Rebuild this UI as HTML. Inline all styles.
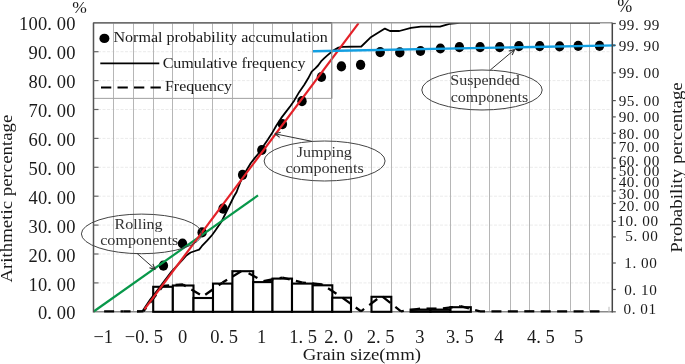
<!DOCTYPE html>
<html><head><meta charset="utf-8"><title>Grain size chart</title><style>html,body{margin:0;padding:0;background:#fff;width:685px;height:364px;overflow:hidden;font-family:"Liberation Serif",serif}</style></head><body>
<svg width="685" height="364" viewBox="0 0 685 364" style="position:absolute;left:0;top:0;font-family:'Liberation Serif',serif;will-change:transform">
<rect width="685" height="364" fill="#fff"/>
<line x1="93.5" y1="282.90" x2="612.3" y2="282.90" stroke="#ebebeb" stroke-width="1" stroke-dasharray="3 1.5"/>
<line x1="93.5" y1="254.00" x2="612.3" y2="254.00" stroke="#ebebeb" stroke-width="1" stroke-dasharray="3 1.5"/>
<line x1="93.5" y1="225.10" x2="612.3" y2="225.10" stroke="#ebebeb" stroke-width="1" stroke-dasharray="3 1.5"/>
<line x1="93.5" y1="196.20" x2="612.3" y2="196.20" stroke="#ebebeb" stroke-width="1" stroke-dasharray="3 1.5"/>
<line x1="93.5" y1="167.30" x2="612.3" y2="167.30" stroke="#ebebeb" stroke-width="1" stroke-dasharray="3 1.5"/>
<line x1="93.5" y1="138.40" x2="612.3" y2="138.40" stroke="#ebebeb" stroke-width="1" stroke-dasharray="3 1.5"/>
<line x1="93.5" y1="109.50" x2="612.3" y2="109.50" stroke="#ebebeb" stroke-width="1" stroke-dasharray="3 1.5"/>
<line x1="93.5" y1="80.60" x2="612.3" y2="80.60" stroke="#ebebeb" stroke-width="1" stroke-dasharray="3 1.5"/>
<line x1="93.5" y1="51.70" x2="612.3" y2="51.70" stroke="#ebebeb" stroke-width="1" stroke-dasharray="3 1.5"/>
<line x1="113.50" y1="22.8" x2="113.50" y2="311.8" stroke="#b6b6b6" stroke-width="1"/>
<line x1="133.50" y1="22.8" x2="133.50" y2="311.8" stroke="#b6b6b6" stroke-width="1"/>
<line x1="153.50" y1="22.8" x2="153.50" y2="311.8" stroke="#b6b6b6" stroke-width="1"/>
<line x1="172.50" y1="22.8" x2="172.50" y2="311.8" stroke="#b6b6b6" stroke-width="1"/>
<line x1="193.50" y1="22.8" x2="193.50" y2="311.8" stroke="#b6b6b6" stroke-width="1"/>
<line x1="212.50" y1="22.8" x2="212.50" y2="311.8" stroke="#b6b6b6" stroke-width="1"/>
<line x1="232.50" y1="22.8" x2="232.50" y2="311.8" stroke="#b6b6b6" stroke-width="1"/>
<line x1="253.50" y1="22.8" x2="253.50" y2="311.8" stroke="#b6b6b6" stroke-width="1"/>
<line x1="272.50" y1="22.8" x2="272.50" y2="311.8" stroke="#b6b6b6" stroke-width="1"/>
<line x1="292.50" y1="22.8" x2="292.50" y2="311.8" stroke="#b6b6b6" stroke-width="1"/>
<line x1="312.50" y1="22.8" x2="312.50" y2="311.8" stroke="#b6b6b6" stroke-width="1"/>
<line x1="331.50" y1="22.8" x2="331.50" y2="311.8" stroke="#b6b6b6" stroke-width="1"/>
<line x1="350.50" y1="22.8" x2="350.50" y2="311.8" stroke="#b6b6b6" stroke-width="1"/>
<line x1="371.50" y1="22.8" x2="371.50" y2="311.8" stroke="#b6b6b6" stroke-width="1"/>
<line x1="391.50" y1="22.8" x2="391.50" y2="311.8" stroke="#b6b6b6" stroke-width="1"/>
<line x1="410.50" y1="22.8" x2="410.50" y2="311.8" stroke="#b6b6b6" stroke-width="1"/>
<line x1="430.50" y1="22.8" x2="430.50" y2="311.8" stroke="#b6b6b6" stroke-width="1"/>
<line x1="450.50" y1="22.8" x2="450.50" y2="311.8" stroke="#b6b6b6" stroke-width="1"/>
<line x1="470.50" y1="22.8" x2="470.50" y2="311.8" stroke="#b6b6b6" stroke-width="1"/>
<line x1="489.50" y1="22.8" x2="489.50" y2="311.8" stroke="#b6b6b6" stroke-width="1"/>
<line x1="510.50" y1="22.8" x2="510.50" y2="311.8" stroke="#b6b6b6" stroke-width="1"/>
<line x1="529.50" y1="22.8" x2="529.50" y2="311.8" stroke="#b6b6b6" stroke-width="1"/>
<line x1="549.50" y1="22.8" x2="549.50" y2="311.8" stroke="#b6b6b6" stroke-width="1"/>
<line x1="570.50" y1="22.8" x2="570.50" y2="311.8" stroke="#b6b6b6" stroke-width="1"/>
<line x1="589.50" y1="22.8" x2="589.50" y2="311.8" stroke="#b6b6b6" stroke-width="1"/>
<rect x="93.5" y="22.8" width="238.20" height="75.60" fill="none" stroke="#a8a8a8" stroke-width="1.1"/>
<line x1="93.5" y1="311.8" x2="612.3" y2="311.8" stroke="#8a8a8a" stroke-width="1.6"/>
<rect x="153.20" y="286.80" width="19.65" height="25.00" fill="#fff" stroke="#000" stroke-width="2.1"/>
<rect x="172.85" y="285.50" width="20.65" height="26.30" fill="#fff" stroke="#000" stroke-width="2.1"/>
<rect x="193.50" y="298.00" width="19.50" height="13.80" fill="#fff" stroke="#000" stroke-width="2.1"/>
<rect x="213.00" y="283.60" width="19.40" height="28.20" fill="#fff" stroke="#000" stroke-width="2.1"/>
<rect x="232.40" y="271.20" width="20.80" height="40.60" fill="#fff" stroke="#000" stroke-width="2.1"/>
<rect x="253.20" y="282.10" width="19.30" height="29.70" fill="#fff" stroke="#000" stroke-width="2.1"/>
<rect x="272.50" y="278.60" width="19.50" height="33.20" fill="#fff" stroke="#000" stroke-width="2.1"/>
<rect x="292.00" y="283.60" width="20.70" height="28.20" fill="#fff" stroke="#000" stroke-width="2.1"/>
<rect x="312.70" y="285.30" width="19.60" height="26.50" fill="#fff" stroke="#000" stroke-width="2.1"/>
<rect x="332.30" y="297.70" width="18.70" height="14.10" fill="#fff" stroke="#000" stroke-width="2.1"/>
<rect x="371.50" y="296.80" width="19.80" height="15.00" fill="#fff" stroke="#000" stroke-width="2.1"/>
<rect x="410.60" y="309.60" width="19.90" height="2.20" fill="#fff" stroke="#000" stroke-width="2.1"/>
<rect x="430.50" y="309.60" width="20.00" height="2.20" fill="#fff" stroke="#000" stroke-width="2.1"/>
<rect x="450.50" y="307.20" width="20.30" height="4.60" fill="#fff" stroke="#000" stroke-width="2.1"/>
<line x1="103.50" y1="311.30" x2="123.50" y2="311.30" stroke="#000" stroke-width="2.3" stroke-dasharray="10 6.43" stroke-dashoffset="15.80"/>
<line x1="123.50" y1="311.30" x2="143.50" y2="311.30" stroke="#000" stroke-width="2.3" stroke-dasharray="10 6.43" stroke-dashoffset="2.94"/>
<line x1="143.50" y1="311.30" x2="163.00" y2="285.80" stroke="#000" stroke-width="2.3" stroke-dasharray="10 6.43" stroke-dashoffset="5.64"/>
<line x1="163.00" y1="285.80" x2="183.00" y2="284.50" stroke="#000" stroke-width="2.3" stroke-dasharray="10 6.43" stroke-dashoffset="3.86"/>
<line x1="183.00" y1="284.50" x2="203.00" y2="296.30" stroke="#000" stroke-width="2.3" stroke-dasharray="10 6.43" stroke-dashoffset="6.78"/>
<line x1="203.00" y1="296.30" x2="222.50" y2="282.60" stroke="#000" stroke-width="2.3" stroke-dasharray="10 6.43" stroke-dashoffset="13.66"/>
<line x1="222.50" y1="282.60" x2="243.00" y2="270.20" stroke="#000" stroke-width="2.3" stroke-dasharray="10 6.43" stroke-dashoffset="4.60"/>
<line x1="243.00" y1="270.20" x2="263.00" y2="281.10" stroke="#000" stroke-width="2.3" stroke-dasharray="10 6.43" stroke-dashoffset="10.04"/>
<line x1="263.00" y1="281.10" x2="282.50" y2="277.60" stroke="#000" stroke-width="2.3" stroke-dasharray="10 6.43" stroke-dashoffset="15.95"/>
<line x1="282.50" y1="277.60" x2="302.50" y2="282.60" stroke="#000" stroke-width="2.3" stroke-dasharray="10 6.43" stroke-dashoffset="2.60"/>
<line x1="302.50" y1="282.60" x2="322.00" y2="284.30" stroke="#000" stroke-width="2.3" stroke-dasharray="10 6.43" stroke-dashoffset="6.55"/>
<line x1="322.00" y1="284.30" x2="341.00" y2="296.70" stroke="#000" stroke-width="2.3" stroke-dasharray="10 6.43" stroke-dashoffset="9.19"/>
<line x1="341.00" y1="296.70" x2="361.00" y2="311.30" stroke="#000" stroke-width="2.3" stroke-dasharray="10 6.43" stroke-dashoffset="14.62"/>
<line x1="361.00" y1="311.30" x2="381.50" y2="295.80" stroke="#000" stroke-width="2.3" stroke-dasharray="10 6.43" stroke-dashoffset="6.09"/>
<line x1="381.50" y1="295.80" x2="401.00" y2="311.30" stroke="#000" stroke-width="2.3" stroke-dasharray="10 6.43" stroke-dashoffset="15.16"/>
<line x1="401.00" y1="311.30" x2="420.50" y2="308.60" stroke="#000" stroke-width="2.3" stroke-dasharray="10 6.43" stroke-dashoffset="7.16"/>
<line x1="420.50" y1="308.60" x2="440.50" y2="308.60" stroke="#000" stroke-width="2.3" stroke-dasharray="10 6.43" stroke-dashoffset="10.42"/>
<line x1="440.50" y1="308.60" x2="460.50" y2="306.20" stroke="#000" stroke-width="2.3" stroke-dasharray="10 6.43" stroke-dashoffset="13.99"/>
<line x1="460.50" y1="306.20" x2="480.00" y2="311.30" stroke="#000" stroke-width="2.3" stroke-dasharray="10 6.43" stroke-dashoffset="1.27"/>
<line x1="480.00" y1="311.30" x2="500.00" y2="311.30" stroke="#000" stroke-width="2.3" stroke-dasharray="10 6.43" stroke-dashoffset="5.00"/>
<line x1="500.00" y1="311.30" x2="520.00" y2="311.30" stroke="#000" stroke-width="2.3" stroke-dasharray="10 6.43" stroke-dashoffset="8.57"/>
<line x1="520.00" y1="311.30" x2="539.50" y2="311.30" stroke="#000" stroke-width="2.3" stroke-dasharray="10 6.43" stroke-dashoffset="12.14"/>
<line x1="539.50" y1="311.30" x2="560.00" y2="311.30" stroke="#000" stroke-width="2.3" stroke-dasharray="10 6.43" stroke-dashoffset="15.21"/>
<line x1="560.00" y1="311.30" x2="580.00" y2="311.30" stroke="#000" stroke-width="2.3" stroke-dasharray="10 6.43" stroke-dashoffset="2.85"/>
<line x1="580.00" y1="311.30" x2="599.50" y2="311.30" stroke="#000" stroke-width="2.3" stroke-dasharray="10 6.43" stroke-dashoffset="6.42"/>
<polyline points="137.00,311.50 142.40,311.20 150.20,299.60 160.20,286.60 171.30,271.80 178.50,264.20 182.20,260.20 186.40,255.40 190.60,252.50 195.00,251.00 199.10,249.60 201.80,246.20 207.10,240.70 212.10,235.00 215.70,230.00 218.60,225.70 221.60,221.50 227.50,209.50 233.90,196.50 236.60,192.00 238.70,186.30 240.60,181.50 243.50,175.50 246.80,169.80 250.70,163.20 254.30,158.60 257.90,154.20 262.90,146.70 267.90,139.60 272.10,133.10 276.10,126.00 281.30,117.90 286.30,111.40 290.60,105.70 294.30,100.40 299.30,91.90 304.30,84.70 308.20,78.30 311.70,71.60 315.30,68.40 318.10,65.50 321.00,61.40 324.60,57.90 327.40,55.40 330.30,52.90 333.20,50.60 338.40,47.60 342.50,46.80 361.30,46.50 370.40,37.60 384.90,28.60 390.00,31.00 399.40,31.00 411.00,27.80 420.80,26.70 440.00,26.70 449.40,23.80 459.90,22.90 600.00,22.90" fill="none" stroke="#000" stroke-width="1.8" stroke-linejoin="round"/>
<ellipse cx="163.4" cy="265.7" rx="4.7" ry="5.1" fill="#000"/>
<ellipse cx="182.5" cy="243.5" rx="4.7" ry="5.1" fill="#000"/>
<ellipse cx="202.1" cy="232.4" rx="4.7" ry="5.1" fill="#000"/>
<ellipse cx="223.0" cy="208.7" rx="4.7" ry="5.1" fill="#000"/>
<ellipse cx="242.6" cy="174.8" rx="4.7" ry="5.1" fill="#000"/>
<ellipse cx="261.8" cy="150.0" rx="4.7" ry="5.1" fill="#000"/>
<ellipse cx="282.4" cy="124.1" rx="4.7" ry="5.1" fill="#000"/>
<ellipse cx="302.0" cy="101.2" rx="4.7" ry="5.1" fill="#000"/>
<ellipse cx="321.4" cy="77.0" rx="4.7" ry="5.1" fill="#000"/>
<ellipse cx="341.4" cy="66.4" rx="4.7" ry="5.1" fill="#000"/>
<ellipse cx="360.6" cy="64.8" rx="4.7" ry="5.1" fill="#000"/>
<ellipse cx="380.2" cy="52.2" rx="4.7" ry="5.1" fill="#000"/>
<ellipse cx="399.8" cy="52.4" rx="4.7" ry="5.1" fill="#000"/>
<ellipse cx="420.5" cy="51.0" rx="4.7" ry="5.1" fill="#000"/>
<ellipse cx="440.4" cy="48.5" rx="4.7" ry="5.1" fill="#000"/>
<ellipse cx="459.4" cy="47.2" rx="4.7" ry="5.1" fill="#000"/>
<ellipse cx="480.1" cy="47.2" rx="4.7" ry="5.1" fill="#000"/>
<ellipse cx="499.7" cy="47.2" rx="4.7" ry="5.1" fill="#000"/>
<ellipse cx="518.9" cy="46.1" rx="4.7" ry="5.1" fill="#000"/>
<ellipse cx="539.7" cy="46.1" rx="4.7" ry="5.1" fill="#000"/>
<ellipse cx="559.6" cy="46.4" rx="4.7" ry="5.1" fill="#000"/>
<ellipse cx="578.2" cy="45.8" rx="4.7" ry="5.1" fill="#000"/>
<ellipse cx="599.5" cy="45.8" rx="4.7" ry="5.1" fill="#000"/>
<line x1="93.7" y1="311.5" x2="258" y2="195.4" stroke="#08984a" stroke-width="2.2"/>
<line x1="144.4" y1="309.3" x2="358.6" y2="23.2" stroke="#e42128" stroke-width="2.2"/>
<line x1="313" y1="51.2" x2="615.2" y2="45.4" stroke="#129fe2" stroke-width="2.4"/>
<rect x="608.2" y="306.8" width="1.6" height="4.6" fill="#d4d4d4"/>
<line x1="93.5" y1="22.8" x2="612.3" y2="22.8" stroke="#9a9a9a" stroke-width="1.4"/>
<line x1="93.5" y1="22.8" x2="331.7" y2="22.8" stroke="#6e6e6e" stroke-width="1.4"/>
<line x1="331.7" y1="22.8" x2="331.7" y2="98.4" stroke="#8a8a8a" stroke-width="1.1"/>
<line x1="93.5" y1="22.8" x2="93.5" y2="312.6" stroke="#555" stroke-width="1.5"/>
<line x1="612.3" y1="22.8" x2="612.3" y2="312.6" stroke="#444" stroke-width="1.5"/>
<line x1="93.5" y1="282.90" x2="98.5" y2="282.90" stroke="#666" stroke-width="1.2"/>
<line x1="93.5" y1="254.00" x2="98.5" y2="254.00" stroke="#666" stroke-width="1.2"/>
<line x1="93.5" y1="225.10" x2="98.5" y2="225.10" stroke="#666" stroke-width="1.2"/>
<line x1="93.5" y1="196.20" x2="98.5" y2="196.20" stroke="#666" stroke-width="1.2"/>
<line x1="93.5" y1="167.30" x2="98.5" y2="167.30" stroke="#666" stroke-width="1.2"/>
<line x1="93.5" y1="138.40" x2="98.5" y2="138.40" stroke="#666" stroke-width="1.2"/>
<line x1="93.5" y1="109.50" x2="98.5" y2="109.50" stroke="#666" stroke-width="1.2"/>
<line x1="93.5" y1="80.60" x2="98.5" y2="80.60" stroke="#666" stroke-width="1.2"/>
<line x1="93.5" y1="51.70" x2="98.5" y2="51.70" stroke="#666" stroke-width="1.2"/>
<line x1="612.3" y1="23.50" x2="615.8" y2="23.50" stroke="#555" stroke-width="1.2"/>
<line x1="612.3" y1="45.30" x2="615.8" y2="45.30" stroke="#555" stroke-width="1.2"/>
<line x1="612.3" y1="72.80" x2="615.8" y2="72.80" stroke="#555" stroke-width="1.2"/>
<line x1="612.3" y1="100.60" x2="615.8" y2="100.60" stroke="#555" stroke-width="1.2"/>
<line x1="612.3" y1="116.90" x2="615.8" y2="116.90" stroke="#555" stroke-width="1.2"/>
<line x1="612.3" y1="133.30" x2="615.8" y2="133.30" stroke="#555" stroke-width="1.2"/>
<line x1="612.3" y1="142.90" x2="615.8" y2="142.90" stroke="#555" stroke-width="1.2"/>
<line x1="612.3" y1="158.30" x2="615.8" y2="158.30" stroke="#555" stroke-width="1.2"/>
<line x1="612.3" y1="167.90" x2="615.8" y2="167.90" stroke="#555" stroke-width="1.2"/>
<line x1="612.3" y1="178.50" x2="615.8" y2="178.50" stroke="#555" stroke-width="1.2"/>
<line x1="612.3" y1="191.00" x2="615.8" y2="191.00" stroke="#555" stroke-width="1.2"/>
<line x1="612.3" y1="203.50" x2="615.8" y2="203.50" stroke="#555" stroke-width="1.2"/>
<line x1="612.3" y1="221.40" x2="615.8" y2="221.40" stroke="#555" stroke-width="1.2"/>
<line x1="612.3" y1="236.90" x2="615.8" y2="236.90" stroke="#555" stroke-width="1.2"/>
<line x1="612.3" y1="263.00" x2="615.8" y2="263.00" stroke="#555" stroke-width="1.2"/>
<line x1="612.3" y1="289.50" x2="615.8" y2="289.50" stroke="#555" stroke-width="1.2"/>
<line x1="612.3" y1="311.80" x2="615.8" y2="311.80" stroke="#555" stroke-width="1.2"/>
<ellipse cx="104.4" cy="38.4" rx="5" ry="4.7" fill="#000"/>
<line x1="100.3" y1="63.4" x2="159.3" y2="63.4" stroke="#000" stroke-width="1.8"/>
<line x1="101" y1="87.5" x2="161" y2="87.5" stroke="#000" stroke-width="2.1" stroke-dasharray="10.3 6.2"/>
<text transform="translate(113.44,42.00) scale(1.0723,1)" font-size="15" fill="#1a1a1a">Normal probability accumulation</text>
<text transform="translate(162.64,68.30) scale(1.0697,1)" font-size="15" fill="#1a1a1a">Cumulative frequency</text>
<text transform="translate(165.04,90.50) scale(1.0570,1)" font-size="15" fill="#1a1a1a">Frequency</text>
<ellipse cx="141.6" cy="233.9" rx="60.2" ry="19.8" fill="none" stroke="#444" stroke-width="1"/>
<ellipse cx="324.6" cy="161.0" rx="60.5" ry="20.0" fill="none" stroke="#444" stroke-width="1"/>
<ellipse cx="482.0" cy="90.0" rx="60.2" ry="20.0" fill="none" stroke="#444" stroke-width="1"/>
<line x1="137" y1="253.4" x2="155.2" y2="269.4" stroke="#333" stroke-width="1"/>
<line x1="155.2" y1="269.4" x2="152.87" y2="263.87" stroke="#333" stroke-width="1.1"/>
<line x1="155.2" y1="269.4" x2="149.42" y2="267.79" stroke="#333" stroke-width="1.1"/>
<line x1="311.8" y1="141.3" x2="274.9" y2="133.8" stroke="#333" stroke-width="1"/>
<line x1="274.9" y1="133.8" x2="279.67" y2="137.43" stroke="#333" stroke-width="1.1"/>
<line x1="274.9" y1="133.8" x2="280.71" y2="132.32" stroke="#333" stroke-width="1.1"/>
<line x1="490.3" y1="70.0" x2="514.6" y2="49.6" stroke="#333" stroke-width="1"/>
<line x1="514.6" y1="49.6" x2="508.78" y2="51.07" stroke="#333" stroke-width="1.1"/>
<line x1="514.6" y1="49.6" x2="512.14" y2="55.07" stroke="#333" stroke-width="1.1"/>
<text transform="translate(114.54,229.00) scale(1.0539,1)" font-size="15.2" fill="#333">Rolling</text>
<text transform="translate(100.18,244.50) scale(1.0632,1)" font-size="15.2" fill="#333">components</text>
<text transform="translate(296.86,157.20) scale(1.0512,1)" font-size="15.2" fill="#333">Jumping</text>
<text transform="translate(285.58,172.70) scale(1.0646,1)" font-size="15.2" fill="#333">components</text>
<text transform="translate(450.22,85.40) scale(1.0579,1)" font-size="15.2" fill="#333">Suspended</text>
<text transform="translate(450.69,101.50) scale(1.0549,1)" font-size="15.2" fill="#333">components</text>
<text x="37.90" y="319.40" font-size="18.5" letter-spacing="0.150" fill="#1a1a1a" >0. 00</text>
<text x="28.50" y="290.50" font-size="18.5" letter-spacing="0.150" fill="#1a1a1a" >10. 00</text>
<text x="28.50" y="261.60" font-size="18.5" letter-spacing="0.150" fill="#1a1a1a" >20. 00</text>
<text x="28.50" y="232.70" font-size="18.5" letter-spacing="0.150" fill="#1a1a1a" >30. 00</text>
<text x="28.50" y="203.80" font-size="18.5" letter-spacing="0.150" fill="#1a1a1a" >40. 00</text>
<text x="28.50" y="174.90" font-size="18.5" letter-spacing="0.150" fill="#1a1a1a" >50. 00</text>
<text x="28.50" y="146.00" font-size="18.5" letter-spacing="0.150" fill="#1a1a1a" >60. 00</text>
<text x="28.50" y="117.10" font-size="18.5" letter-spacing="0.150" fill="#1a1a1a" >70. 00</text>
<text x="28.50" y="88.20" font-size="18.5" letter-spacing="0.150" fill="#1a1a1a" >80. 00</text>
<text x="28.50" y="59.30" font-size="18.5" letter-spacing="0.150" fill="#1a1a1a" >90. 00</text>
<text x="19.10" y="30.40" font-size="18.5" letter-spacing="0.150" fill="#1a1a1a" >100. 00</text>
<text x="618.67" y="29.90" font-size="15.2" letter-spacing="0.550" fill="#1a1a1a" >99. 99</text>
<text x="618.63" y="51.30" font-size="15.2" letter-spacing="0.550" fill="#1a1a1a" >99. 90</text>
<text x="618.63" y="78.10" font-size="15.2" letter-spacing="0.550" fill="#1a1a1a" >99. 00</text>
<text x="618.63" y="105.70" font-size="15.2" letter-spacing="0.550" fill="#1a1a1a" >95. 00</text>
<text x="618.63" y="122.20" font-size="15.2" letter-spacing="0.550" fill="#1a1a1a" >90. 00</text>
<text x="618.63" y="138.90" font-size="15.2" letter-spacing="0.550" fill="#1a1a1a" >80. 00</text>
<text x="618.63" y="151.70" font-size="15.2" letter-spacing="0.550" fill="#1a1a1a" >70. 00</text>
<text x="618.63" y="165.50" font-size="15.2" letter-spacing="0.550" fill="#1a1a1a" >60. 00</text>
<text x="618.63" y="176.00" font-size="15.2" letter-spacing="0.550" fill="#1a1a1a" >50. 00</text>
<text x="618.63" y="187.30" font-size="15.2" letter-spacing="0.550" fill="#1a1a1a" >40. 00</text>
<text x="618.63" y="198.80" font-size="15.2" letter-spacing="0.550" fill="#1a1a1a" >30. 00</text>
<text x="618.63" y="211.10" font-size="15.2" letter-spacing="0.550" fill="#1a1a1a" >20. 00</text>
<text x="617.33" y="226.10" font-size="15.2" letter-spacing="0.550" fill="#1a1a1a" >10. 00</text>
<text x="625.28" y="241.30" font-size="15.2" letter-spacing="0.550" fill="#1a1a1a" >5. 00</text>
<text x="624.28" y="267.80" font-size="15.2" letter-spacing="0.550" fill="#1a1a1a" >1. 00</text>
<text x="624.18" y="295.00" font-size="15.2" letter-spacing="0.550" fill="#1a1a1a" >0. 10</text>
<text x="623.51" y="314.00" font-size="15.2" letter-spacing="0.550" fill="#1a1a1a" >0. 01</text>
<text x="93.45" y="342.60" font-size="18.5" letter-spacing="0.000" fill="#1a1a1a" >−1</text>
<text x="124.71" y="342.60" font-size="18.5" letter-spacing="0.000" fill="#1a1a1a" >−0. 5</text>
<text x="177.97" y="342.60" font-size="18.5" letter-spacing="0.000" fill="#1a1a1a" >0</text>
<text x="210.13" y="342.60" font-size="18.5" letter-spacing="0.000" fill="#1a1a1a" >0. 5</text>
<text x="257.12" y="342.60" font-size="18.5" letter-spacing="0.000" fill="#1a1a1a" >1</text>
<text x="289.17" y="342.60" font-size="18.5" letter-spacing="0.000" fill="#1a1a1a" >1. 5</text>
<text x="324.19" y="342.60" font-size="18.5" letter-spacing="0.356" fill="#1a1a1a" >2. 0</text>
<text x="366.68" y="342.60" font-size="18.5" letter-spacing="0.000" fill="#1a1a1a" >2. 5</text>
<text x="415.29" y="342.60" font-size="18.5" letter-spacing="0.000" fill="#1a1a1a" >3</text>
<text x="446.04" y="342.60" font-size="18.5" letter-spacing="0.000" fill="#1a1a1a" >3. 5</text>
<text x="494.34" y="342.60" font-size="18.5" letter-spacing="0.000" fill="#1a1a1a" >4</text>
<text x="527.11" y="342.60" font-size="18.5" letter-spacing="0.000" fill="#1a1a1a" >4. 5</text>
<text x="574.00" y="342.60" font-size="18.5" letter-spacing="0.000" fill="#1a1a1a" >5</text>
<text x="72.20" y="12.60" font-size="17.5" letter-spacing="0.000" fill="#1a1a1a" >%</text>
<text x="617.18" y="11.80" font-size="18" letter-spacing="0.000" fill="#1a1a1a" >%</text>
<g transform="translate(12.4,282.4) rotate(-90)">
<text transform="translate(-0.18,0.00) scale(1.1420,1)" font-size="16.5" fill="#1a1a1a">Arithmetic percentage</text>
</g>
<g transform="translate(682.0,252.3) rotate(-90)">
<text transform="translate(-0.54,0.00) scale(1.1464,1)" font-size="16.5" fill="#1a1a1a">Probability percentage</text>
</g>
<text transform="translate(302.73,359.70) scale(1.1595,1)" font-size="16.2" fill="#1a1a1a">Grain size(mm)</text>
</svg>
</body></html>
